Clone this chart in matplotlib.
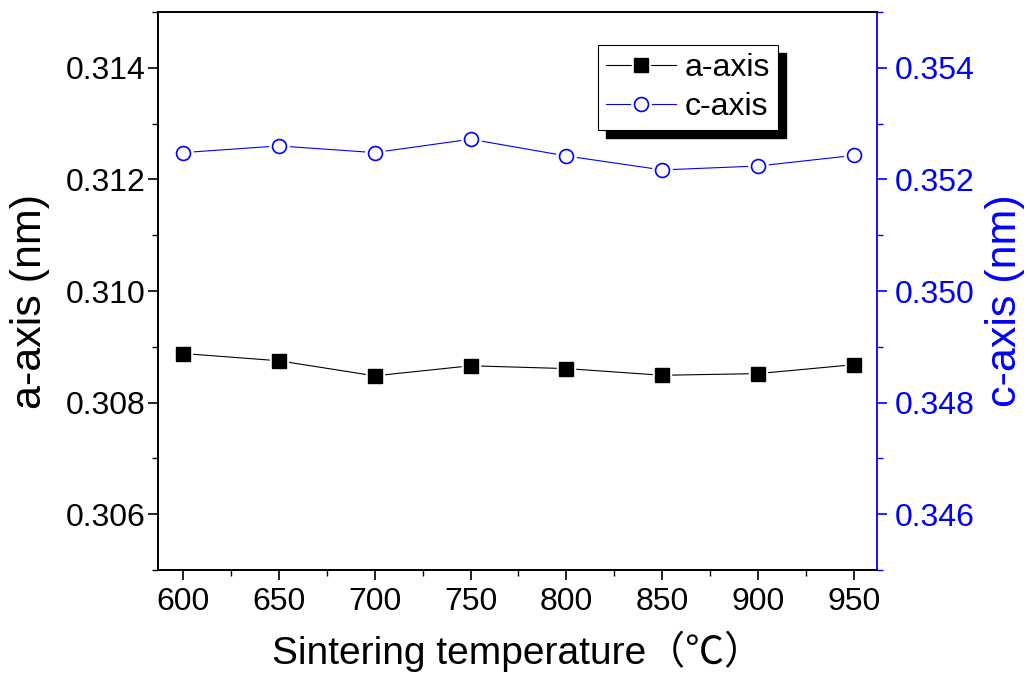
import numpy as np
import matplotlib
matplotlib.use('Agg')
import matplotlib.pyplot as plt
from matplotlib.ticker import MultipleLocator, FormatStrFormatter
from matplotlib.legend_handler import HandlerTuple
from matplotlib.patches import Rectangle
from matplotlib.transforms import IdentityTransform

plt.rcParams['font.family'] = ['Liberation Sans', 'Noto Sans CJK SC']

# lattice parameters vs sintering temperature
temp = [600, 650, 700, 750, 800, 850, 900, 950]
a_axis = [0.30888, 0.30875, 0.30848, 0.30866, 0.30861, 0.30849, 0.30852, 0.30868]
c_axis = [0.35248, 0.35260, 0.35248, 0.35272, 0.35242, 0.35217, 0.35224, 0.35243]

blue = '#0000FF'

fig = plt.figure(figsize=(10.3, 6.77), dpi=100)
ax = fig.add_axes([0.1534, 0.158, 0.698, 0.8243])
ax2 = ax.twinx()

# line, white halo (gap around marker), marker
la, = ax.plot(temp, a_axis, '-', color='k', lw=0.8, zorder=2)
ha, = ax.plot(temp, a_axis, 's', color='white', ms=13, zorder=3)
ma, = ax.plot(temp, a_axis, 's', color='k', ms=9.5, zorder=4)

lc, = ax2.plot(temp, c_axis, '-', color=blue, lw=0.8, zorder=2)
hc, = ax2.plot(temp, c_axis, 'o', color='white', ms=14, zorder=3)
mc, = ax2.plot(temp, c_axis, 'o', mfc='white', mec=blue, mew=1.2, ms=10, zorder=4)

ax.set_xlim(587, 962)
ax.set_ylim(0.305, 0.315)
ax2.set_ylim(0.345, 0.355)

ax.xaxis.set_major_locator(MultipleLocator(50))
ax.xaxis.set_minor_locator(MultipleLocator(25))
ax.yaxis.set_major_locator(MultipleLocator(0.002))
ax.yaxis.set_minor_locator(MultipleLocator(0.001))
ax2.yaxis.set_major_locator(MultipleLocator(0.002))
ax2.yaxis.set_minor_locator(MultipleLocator(0.001))
ax.yaxis.set_major_formatter(FormatStrFormatter('%.3f'))
ax2.yaxis.set_major_formatter(FormatStrFormatter('%.3f'))

ax.tick_params(axis='x', which='major', direction='out', length=7, width=1.2, labelsize=23, pad=5)
ax.tick_params(axis='x', which='minor', direction='out', length=4, width=1.0)
ax.tick_params(axis='y', which='major', direction='out', length=7, width=1.2, labelsize=23, pad=2)
ax.tick_params(axis='y', which='minor', direction='out', length=4, width=1.0)
ax2.tick_params(axis='y', which='major', direction='out', length=7, width=1.2, labelsize=23,
                pad=6, colors=blue)
ax2.tick_params(axis='y', which='minor', direction='out', length=4, width=1.0, colors=blue)

for s in ['left', 'bottom', 'top']:
    ax.spines[s].set_linewidth(1.3)
    ax2.spines[s].set_linewidth(1.3)
ax2.spines['right'].set_color(blue)
ax2.spines['right'].set_linewidth(1.3)
ax.spines['right'].set_visible(False)

ax.set_xlabel('Sintering temperature（℃）', fontsize=28, labelpad=10)
ax.set_ylabel('a-axis (nm)', fontsize=31)
ax2.set_ylabel('c-axis (nm)', fontsize=31, color=blue)
ax.yaxis.set_label_coords(-0.150, 0.482)
ax2.yaxis.set_label_coords(1.150, 0.482)

leg = ax2.legend([(la, ha, ma), (lc, hc, mc)], ['a-axis', 'c-axis'],
                 handler_map={tuple: HandlerTuple(ndivide=1)},
                 loc='upper left', bbox_to_anchor=(0.612, 0.941), fontsize=23,
                 frameon=True, fancybox=False, edgecolor='k', framealpha=1,
                 handlelength=2.2, handletextpad=0.25, borderpad=0.25,
                 labelspacing=0.3, borderaxespad=0)
leg.get_frame().set_linewidth(0.8)
leg.set_zorder(6)

fig.canvas.draw()
bb = leg.get_window_extent()
shadow = Rectangle((bb.x0 + 8, bb.y0 - 8), bb.width, bb.height, transform=IdentityTransform(),
                   color='k', zorder=5.9, clip_on=False)
ax2.add_artist(shadow)

fig.savefig('out.png', dpi=100)
